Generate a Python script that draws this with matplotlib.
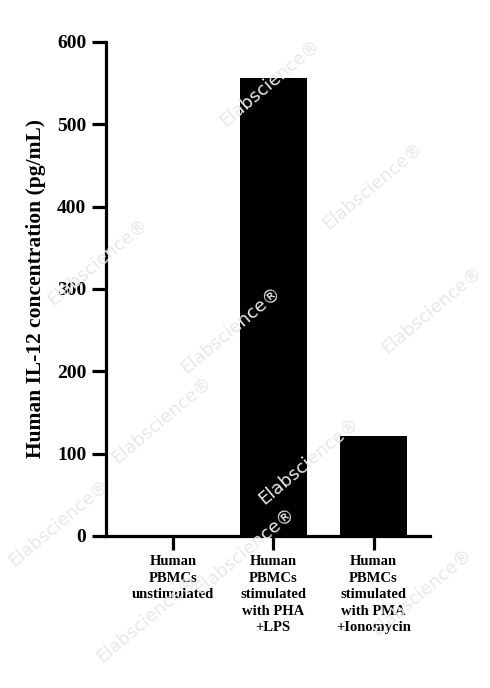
import matplotlib
matplotlib.use("Agg")
import matplotlib.pyplot as plt

categories = ["Human\nPBMCs\nunstimulated",
              "Human\nPBMCs\nstimulated\nwith PHA\n+LPS",
              "Human\nPBMCs\nstimulated\nwith PMA\n+Ionomycin"]
values = [0, 556, 121]
yticks = [0, 100, 200, 300, 400, 500, 600]
ylabel = "Human IL-12 concentration (pg/mL)"

plt.rcParams['font.family'] = ['Liberation Serif', 'DejaVu Serif']
fig = plt.figure(figsize=(4.90, 6.88), dpi=100)

# watermarks (drawn first, behind everything)
wm = [(0.55, 0.88), (0.76, 0.73), (0.20, 0.62), (0.47, 0.52),
      (0.33, 0.39), (0.63, 0.33), (0.12, 0.24), (0.88, 0.55),
      (0.50, 0.20), (0.86, 0.14), (0.30, 0.10)]
for (wx, wy) in wm:
    fig.text(wx, wy, "Elabscience\u00ae", rotation=40, fontsize=13, color='#e8e8e8',
             family='DejaVu Sans', ha='center', va='center', zorder=0)

ax = fig.add_axes([0.216, 0.221, 0.662, 0.718])
ax.patch.set_alpha(0)

x = list(range(len(categories)))
ax.bar(x, values, width=0.67, color='black', zorder=3)
ax.set_xlim(-0.67, 2.565)
ax.set_ylim(0, 600)
ax.set_yticks(yticks)
ax.set_xticks(x)
ax.set_xticklabels(categories, fontsize=10.5, fontweight='bold', linespacing=1.35)
for lab in ax.get_yticklabels():
    lab.set_fontweight('bold')
    lab.set_fontsize(14)
ax.set_ylabel(ylabel, fontsize=15.5, fontweight='bold', labelpad=8)
for s in ['top', 'right']:
    ax.spines[s].set_visible(False)
for s in ['left', 'bottom']:
    ax.spines[s].set_linewidth(2.3)
ax.tick_params(axis='both', width=2.3, length=10, direction='out', pad=4)

fig.savefig("out.png", dpi=100)
